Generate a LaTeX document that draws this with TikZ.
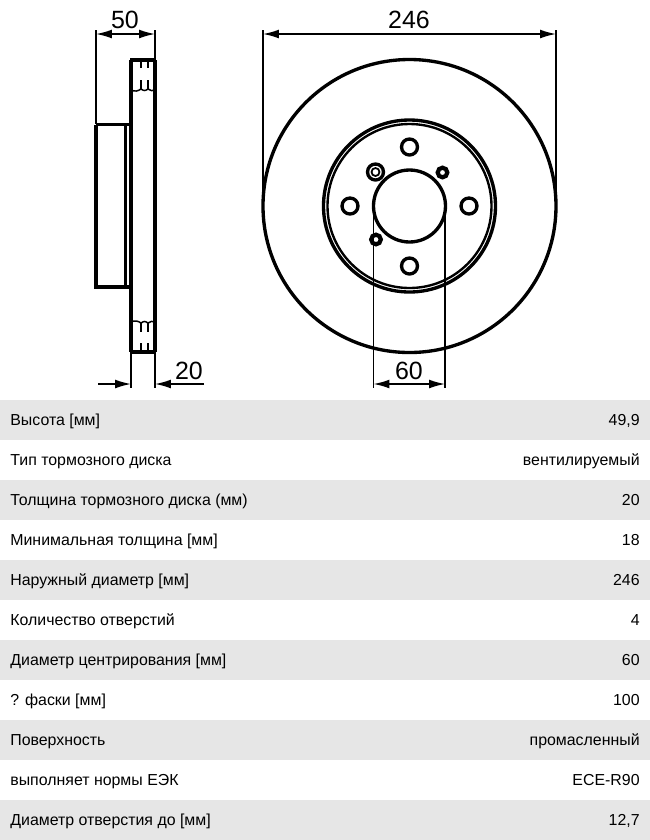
\documentclass[tikz,border=0pt]{standalone}
\usepackage{fontspec}
\setmainfont{Liberation Sans}
\usetikzlibrary{arrows.meta}
\definecolor{rowgray}{HTML}{E6E6E6}
\tikzset{
  thick line/.style={line width=1.9pt},
  thin line/.style={line width=.85pt},
  dim line/.style={line width=.85pt,{Latex[length=9pt,width=5pt]}-{Latex[length=9pt,width=5pt]}},
  dim arrow/.style={line width=.85pt,-{Latex[length=9pt,width=5pt]}},
  dim label/.style={font=\fontsize{14.2}{15}\selectfont,inner sep=0pt},
  row label/.style={right,font=\fontsize{9.05}{10}\selectfont,inner sep=0pt,text depth=.2ex},
  row value/.style={left,font=\fontsize{9.05}{10}\selectfont,inner sep=0pt,text depth=.2ex},
  gray row/.style={fill=rowgray,draw=none}
}

\begin{document}
\begin{tikzpicture}[x=.02cm,y=-.02cm]
      \useasboundingbox [fill=white] (0,0) rectangle (650,840);

      % side view
      \draw [thick line] (131,60) -- (131,352);
      \draw [thick line] (155,60) -- (155,352);
      \draw [thick line] (130,60) -- (156,60);
      \draw [thick line] (130,352) -- (156,352);
      \draw [thick line] (96,124.5) -- (96,287) -- (131,287);
      \draw [thick line] (96,124.5) -- (131,124.5);
      \draw [thick line] (125.5,124.5) -- (125.5,287);

      \draw [thin line] (141,60) -- (141,68);
      \draw [thin line] (148,60) -- (148,68);
      \draw [thin line] (141,80) -- (141,90);
      \draw [thin line] (148,80) -- (148,90);
      \draw [thin line] (131,90) .. controls (135,92) and (138,91) .. (141,89) .. controls (144,91) and (145,91) .. (148,89) .. controls (150,91) and (153,91) .. (155,90);

      \draw [thin line] (141,322) -- (141,332);
      \draw [thin line] (148,322) -- (148,332);
      \draw [thin line] (141,343) -- (141,352);
      \draw [thin line] (148,343) -- (148,352);
      \draw [thin line] (131,322) .. controls (135,320) and (138,321) .. (141,323) .. controls (144,321) and (145,321) .. (148,323) .. controls (150,321) and (153,321) .. (155,322);

      % side view dimensions
      \draw [thin line] (96,30) -- (96,124);
      \draw [thin line] (155,30) -- (155,60);
      \draw [dim line] (96,34) -- (155,34);
      \node [dim label] (widthlabel) at (125,20) {50};

      \draw [thin line] (131,352) -- (131,388);
      \draw [thin line] (155,352) -- (155,388);
      \draw [dim arrow] (98,384) -- (131,384);
      \draw [dim arrow] (204,384) -- (155,384);
      \node [dim label] (thicklabel) at (189,371) {20};

      % front view
      \draw [thick line] (409.5,206) circle (146.5);
      \draw [thick line] (409.5,206) circle (86);
      \draw [line width=1.35pt] (409.5,206) circle (82);
      \draw [thick line] (409.5,206) circle (36);

      \draw [thick line] (409.5,147) circle (8);
      \draw [thick line] (409.5,266) circle (8);
      \draw [thick line] (350,206) circle (8);
      \draw [thick line] (469,206) circle (8);

      \draw [line width=2.4pt] (442.5,172.5) circle (4.8);
      \draw [line width=2.4pt] (376,239.5) circle (4.8);
      \draw [thick line] (375.5,172) circle (8);
      \draw [line width=1pt] (375.5,172) circle (4);

      % front view dimensions
      \draw [thin line] (263,30) -- (263,206);
      \draw [thin line] (556,30) -- (556,206);
      \draw [dim line] (263,34) -- (556,34);
      \node [dim label] (outerlabel) at (409,20) {246};

      \draw [thin line] (373.5,206) -- (373.5,388);
      \draw [thin line] (445,206) -- (445,388);
      \draw [dim line] (373.5,384) -- (445,384);
      \node [dim label] (hublabel) at (409,371) {60};

      % table
      \fill [gray row] (0,400) rectangle (650,440);
      \fill [gray row] (0,480) rectangle (650,520);
      \fill [gray row] (0,560) rectangle (650,600);
      \fill [gray row] (0,640) rectangle (650,680);
      \fill [gray row] (0,720) rectangle (650,760);
      \fill [gray row] (0,800) rectangle (650,840);

      \node [row label] (heightname) at (10,421) {Высота [мм]};
      \node [row value] (heightvalue) at (640,421) {49,9};
      \node [row label] (typename) at (10,461) {Тип тормозного диска};
      \node [row value] (typevalue) at (640,461) {вентилируемый};
      \node [row label] (thickname) at (10,501) {Толщина тормозного диска (мм)};
      \node [row value] (thickvalue) at (640,501) {20};
      \node [row label] (minname) at (10,541) {Минимальная толщина [мм]};
      \node [row value] (minvalue) at (640,541) {18};
      \node [row label] (outername) at (10,581) {Наружный диаметр [мм]};
      \node [row value] (outervalue) at (640,581) {246};
      \node [row label] (holesname) at (10,621) {Количество отверстий};
      \node [row value] (holesvalue) at (640,621) {4};
      \node [row label] (centername) at (10,661) {Диаметр центрирования [мм]};
      \node [row value] (centervalue) at (640,661) {60};
      \node [row label] (chamfername) at (10,701) {? фаски [мм]};
      \node [row value] (chamfervalue) at (640,701) {100};
      \node [row label] (surfacename) at (10,741) {Поверхность};
      \node [row value] (surfacevalue) at (640,741) {промасленный};
      \node [row label] (normname) at (10,781) {выполняет нормы ЕЭК};
      \node [row value] (normvalue) at (640,781) {ECE-R90};
      \node [row label] (boltname) at (10,821) {Диаметр отверстия до [мм]};
      \node [row value] (boltvalue) at (640,821) {12,7};
    \end{tikzpicture}
\end{document}
